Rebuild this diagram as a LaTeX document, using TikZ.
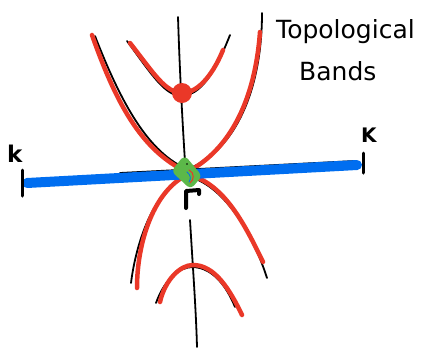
\documentclass[tikz,border=0pt]{standalone}
\usepackage{fontspec}
\setmainfont{DejaVu Sans}
\definecolor{bandred}{RGB}{234,56,40}
\definecolor{bandblue}{RGB}{0,110,240}
\definecolor{pointgreen}{RGB}{92,184,73}
\begin{document}
\begin{tikzpicture}[x=1pt,y=-1pt,
  pencil/.style={black,line width=1.8pt,line cap=round,line join=round},
  redband/.style={bandred,line width=4.5pt,line cap=round,line join=round},
  label/.style={inner sep=0pt,anchor=base west}]
\useasboundingbox (0,0) rectangle (436,349);
% axes
\draw[pencil] (178,17) .. controls (180,80) and (183,130) .. (185,162);
\draw[pencil] (190,220) .. controls (193,270) and (196,310) .. (197,347);
% black pencil bands
\draw[pencil] (127,41) .. controls (152,75) and (165,96) .. (182,96) .. controls (205,95) and (220,60) .. (230,35);
\draw[pencil] (95,36) .. controls (118,95) and (145,150) .. (185,168);
\draw[pencil] (262,13) .. controls (262,90) and (235,150) .. (190,168);
\draw[pencil] (183,178) .. controls (150,195) and (135,250) .. (131,283);
\draw[pencil] (193,178) .. controls (228,190) and (255,240) .. (267,278);
\draw[pencil] (156,303) .. controls (165,278) and (180,267) .. (193,267) .. controls (215,268) and (228,290) .. (235,307);
% red bands
\draw[redband] (130,43) .. controls (155,75) and (165,92) .. (182,93) .. controls (200,93) and (215,70) .. (223,50);
\draw[redband] (92,35) .. controls (115,100) and (140,150) .. (187,172);
\draw[redband] (187,172) .. controls (230,150) and (255,100) .. (260,32);
\draw[redband] (187,175) .. controls (155,190) and (137,240) .. (137,288);
\draw[redband] (190,175) .. controls (225,185) and (245,225) .. (263,262);
\draw[redband] (160,302) .. controls (165,280) and (180,265) .. (193,265) .. controls (215,265) and (230,290) .. (242,315);
% k axis
\draw[pencil] (120,173) -- (355,161);
\draw[bandblue,line width=10pt,line cap=round] (27,183) -- (357,165);
\draw[black,line width=3pt,line cap=round] (22,170) -- (22,196);
\draw[black,line width=3pt,line cap=round] (363,153) -- (363,173);
% red point
\fill[bandred] (182,93) circle (10);
% green point
\filldraw[pointgreen,line width=4pt,line join=round,rounded corners=3pt] (184.5,158) -- (199.5,176) -- (190.5,186.5) -- (174,171) -- cycle;
\fill[black] (187,164) circle (0.8);
\draw[bandred,line width=1pt,line cap=round] (189,170) .. controls (195,173) and (194,180) .. (190,183);
\draw[bandblue,line width=0.8pt,line cap=round] (187,172) .. controls (191,175) and (191,179) .. (189,182);
% Gamma
\draw[black,line width=4pt,line cap=round,line join=round] (186,208) -- (186,191) -- (199,190) -- (199,194);
% labels
\node[label,font=\bfseries\fontsize{23}{23}\selectfont] (kleft) at (7,162) {k};
\node[label,font=\bfseries\fontsize{20}{20}\selectfont] (kright) at (361,142) {K};
\node[label,font=\fontsize{25}{25}\selectfont] (title1) at (276,38) {Topological};
\node[label,font=\fontsize{25}{25}\selectfont] (title2) at (299,80) {Bands};
\end{tikzpicture}
\end{document}
